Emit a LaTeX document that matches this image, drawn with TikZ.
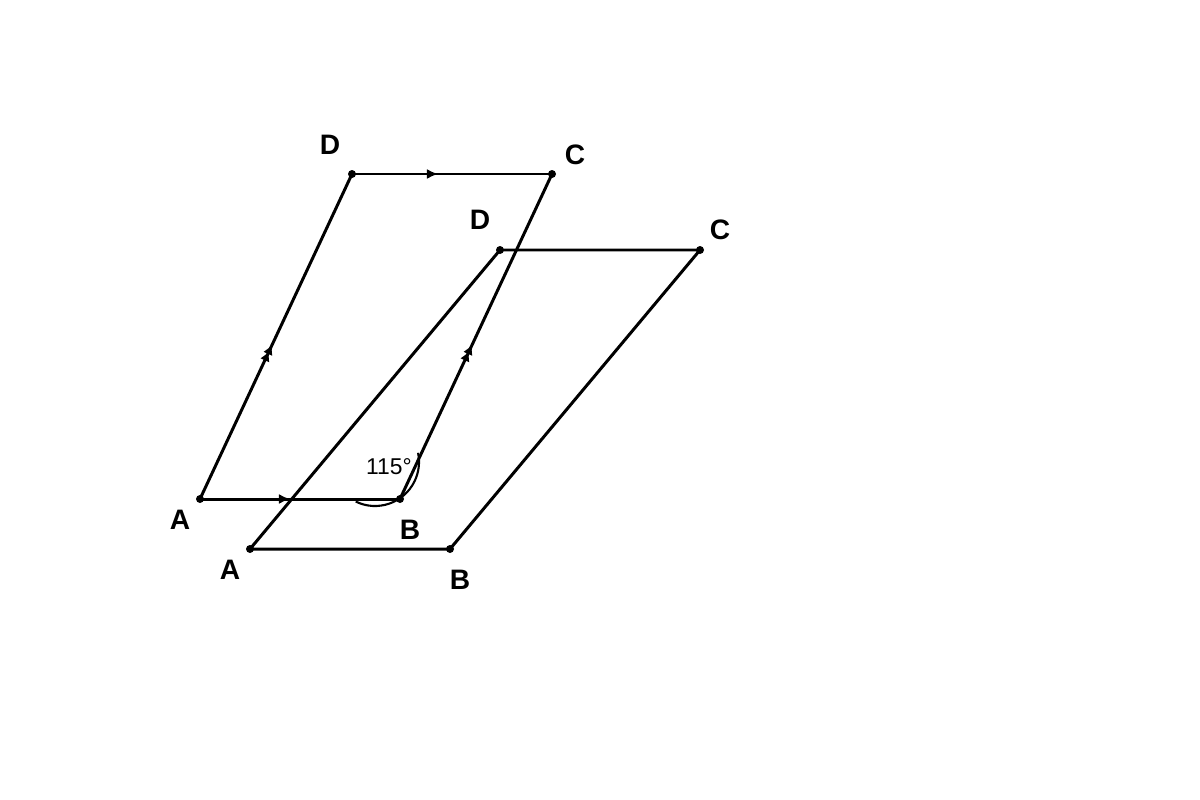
\documentclass[tikz,border=0pt]{standalone}
\usepackage{fontspec}
\setmainfont{Liberation Sans}
\usetikzlibrary{decorations.markings,arrows.meta}
\begin{document}
\begin{tikzpicture}[x=0.01cm,y=-0.01cm,
  edge/.style={line width=0.85pt,line cap=round},
  pt/.style={circle,fill=black,inner sep=0pt,minimum size=0.08cm},
  lbl/.style={font=\bfseries\fontsize{8}{9}\selectfont},
  onemark/.style={postaction={decorate},decoration={markings,
     mark=at position #1 with {\arrow{Latex[length=0.11cm,width=0.1cm]}}}},
  twomark/.style={postaction={decorate},decoration={markings,
     mark=at position #1 with {\arrow{Latex[length=0.1cm,width=0.1cm]}},
     mark=at position #1+0.02 with {\arrow{Latex[length=0.1cm,width=0.1cm]}}}}]
\useasboundingbox (0,0) rectangle (1200,800);
% first parallelogram
\node[pt] (A1) at (200,499) {};
\node[pt] (B1) at (400,499) {};
\node[pt] (C1) at (552,174) {};
\node[pt] (D1) at (352,174) {};
% second parallelogram
\node[pt] (A2) at (250,549) {};
\node[pt] (B2) at (450,549) {};
\node[pt] (C2) at (700,250) {};
\node[pt] (D2) at (500,250) {};
\draw[edge,onemark=0.45] (A1.center) -- (B1.center);
\draw[edge,onemark=0.43] (D1.center) -- (C1.center);
\draw[edge,twomark=0.455] (A1.center) -- (D1.center);
\draw[edge,twomark=0.455] (B1.center) -- (C1.center);
\draw[edge] (A2.center) -- (B2.center) -- (C2.center) -- (D2.center) -- cycle;
% angle
\draw[line width=0.6pt] (375,462) ++(116:44) arc[start angle=116,end angle=-12,radius=44];
\node[font=\fontsize{6.5}{7}\selectfont] (ang) at (389,467) {115°};
% labels
\node[lbl] (lD1) at (330,145) {D};
\node[lbl] (lC1) at (575,155) {C};
\node[lbl] (lD2) at (480,220) {D};
\node[lbl] (lC2) at (720,230) {C};
\node[lbl] (lA1) at (180,520) {A};
\node[lbl] (lB1) at (410,530) {B};
\node[lbl] (lA2) at (230,570) {A};
\node[lbl] (lB2) at (460,580) {B};
\end{tikzpicture}
\end{document}
